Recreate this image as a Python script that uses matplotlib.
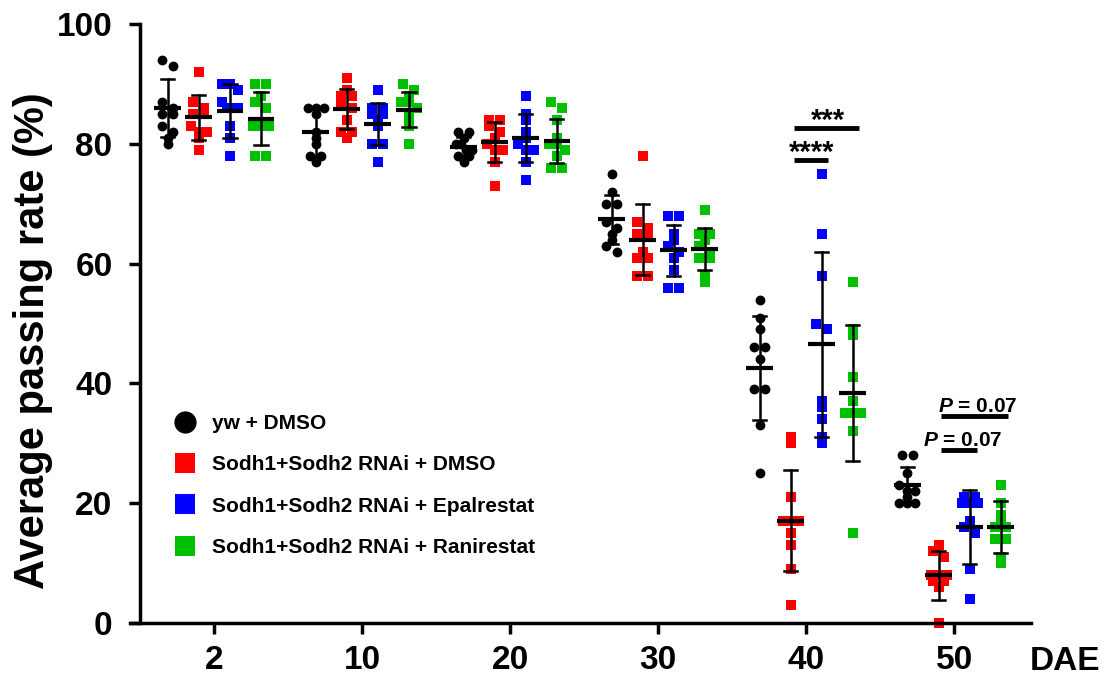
import numpy as np
import matplotlib.pyplot as plt
from matplotlib.lines import Line2D

plt.rcParams['font.family'] = ['Liberation Sans', 'DejaVu Sans']
plt.rcParams['font.weight'] = 'bold'
plt.rcParams['mathtext.fontset'] = 'custom'
plt.rcParams['mathtext.it'] = 'Liberation Sans:italic:bold'
plt.rcParams['mathtext.rm'] = 'Liberation Sans:bold'

# Days after eclosion (x categories) and the four conditions
days = ['2', '10', '20', '30', '40', '50']
groups = ['yw + DMSO', 'Sodh1+Sodh2 RNAi + DMSO',
          'Sodh1+Sodh2 RNAi + Epalrestat', 'Sodh1+Sodh2 RNAi + Ranirestat']
colors = ['#000000', '#ff0000', '#0000ff', '#00c000']
markers = ['o', 's', 's', 's']

# Individual vials (passing rate %)
yw_dmso = [[94, 93, 87, 86, 85, 85, 83, 82, 81, 80],
           [86, 86, 86, 85, 82, 81, 80, 78, 78, 77],
           [82, 82, 81, 80, 80, 79, 79, 78, 78, 77],
           [75, 72, 70, 70, 67, 66, 65, 64, 63, 62],
           [54, 51, 49, 46, 46, 44, 39, 39, 33, 25],
           [28, 28, 25, 23, 22, 22, 21, 20, 20, 20]]
rnai_dmso = [[92, 87, 86, 85, 85, 83, 82, 82, 81, 79],
             [91, 89, 88, 88, 87, 86, 84, 82, 82, 81],
             [84, 84, 83, 82, 81, 80, 79, 79, 77, 73],
             [78, 67, 66, 65, 65, 62, 61, 61, 58, 58],
             [31, 30, 21, 17, 17, 17, 15, 13, 9, 3],
             [13, 12, 11, 8, 8, 8, 7, 7, 6, 0]]
rnai_epal = [[90, 90, 89, 87, 86, 86, 86, 83, 81, 78],
             [89, 86, 86, 85, 85, 84, 83, 80, 80, 77],
             [88, 85, 84, 82, 81, 80, 79, 79, 77, 74],
             [68, 68, 65, 64, 63, 62, 61, 59, 56, 56],
             [75, 65, 58, 50, 49, 37, 36, 34, 31, 30],
             [21, 21, 20, 20, 20, 17, 16, 15, 9, 4]]
rnai_rani = [[90, 90, 88, 87, 86, 83, 83, 83, 78, 78],
             [90, 89, 88, 87, 87, 86, 85, 84, 83, 80],
             [87, 86, 84, 81, 80, 80, 79, 78, 76, 76],
             [69, 65, 65, 64, 63, 62, 61, 61, 58, 57],
             [57, 49, 48, 41, 37, 35, 35, 35, 32, 15],
             [23, 20, 18, 17, 16, 16, 14, 14, 11, 10]]

# Mean and SD bars as drawn
yw_mean = [86.0, 82.0, 79.5, 67.4, 42.6, 23.0]
yw_sd = [4.9, 4.0, 1.6, 4.1, 8.7, 3.0]
dmso_mean = [84.4, 85.8, 80.3, 64.0, 17.1, 8.0]
dmso_sd = [3.7, 3.3, 3.3, 5.9, 8.5, 4.1]
epal_mean = [85.5, 83.3, 80.9, 62.2, 46.5, 16.0]
epal_sd = [4.5, 3.5, 4.0, 4.2, 15.5, 6.2]
rani_mean = [84.2, 85.7, 80.5, 62.4, 38.4, 16.0]
rani_sd = [4.4, 2.9, 3.7, 3.5, 11.4, 4.3]

all_vals = [yw_dmso, rnai_dmso, rnai_epal, rnai_rani]
all_means = [yw_mean, dmso_mean, epal_mean, rani_mean]
all_sds = [yw_sd, dmso_sd, epal_sd, rani_sd]

# significance annotations: (day index, from group, to group, label, bar height)
sig_40 = [(4, 1, 2, '****', 77.3), (4, 1, 3, '***', 82.6)]
sig_50 = [(5, 1, 2, '$P$ = 0.07', 28.8), (5, 1, 3, '$P$ = 0.07', 34.6)]

offsets = [-0.315, -0.105, 0.105, 0.315]

# pixels per data unit (used only to spread overlapping points)
PX_X = 148.0
PX_Y = 5.99


def spread(vals, row=8.5, step=11.0, maxw=16.0):
    # Prism-like scatter: points in the same row are spread symmetrically
    vals = np.asarray(vals, float)
    rows = np.round(vals * PX_Y / row)
    dx = np.zeros(len(vals))
    for r in np.unique(rows):
        idx = np.where(rows == r)[0]
        n = len(idx)
        if n < 2:
            continue
        st = min(step, maxw / (n - 1))
        for k, i in enumerate(idx):
            dx[i] = (k - (n - 1) / 2) * st / PX_X
    return dx


fig = plt.figure(figsize=(11.08, 6.75), dpi=100)
ax = fig.add_axes([130 / 1108, 52 / 675, 901 / 1108, 599 / 675])

for g in range(4):
    for d in range(len(days)):
        v = np.array(all_vals[g][d])
        x = d + offsets[g] + spread(v)
        ax.scatter(x, v, s=50 if markers[g] == 'o' else 42, marker=markers[g],
                   color=colors[g], linewidths=0, clip_on=False, zorder=2)
        xc = d + offsets[g]
        m, sd = all_means[g][d], all_sds[g][d]
        ax.plot([xc, xc], [m - sd, m + sd], color='black', lw=1.8, zorder=3)
        for yy in (m - sd, m + sd):
            ax.plot([xc - 0.045, xc + 0.045], [yy, yy], color='black', lw=1.8, zorder=3)
        ax.plot([xc - 0.09, xc + 0.09], [m, m], color='black', lw=3, zorder=3,
                solid_capstyle='butt')

# significance bars
for d, g0, g1, lab, yb in sig_40:
    x0 = d + offsets[g0] + 0.02
    x1 = d + offsets[g1] + 0.04
    ax.plot([x0, x1], [yb, yb], color='black', lw=3.5, solid_capstyle='butt')
    ax.text((x0 + x1) / 2 + 0.01, yb - 0.2, lab, ha='center', va='baseline',
            fontsize=21, fontweight='bold')
for d, g0, g1, lab, yb in sig_50:
    x0 = d + offsets[g0] + 0.02
    x1 = d + offsets[g1] + 0.05
    ax.plot([x0, x1], [yb, yb], color='black', lw=3.5, solid_capstyle='butt')
    ax.text((x0 + x1) / 2 + 0.02, yb + 0.7, lab, ha='center', va='baseline',
            fontsize=15, fontweight='bold')

ax.set_xlim(-0.57, 5.52)
ax.set_ylim(0, 100)
ax.spines['top'].set_visible(False)
ax.spines['right'].set_visible(False)
ax.spines['left'].set_position(('data', -0.5))
ax.spines['left'].set_linewidth(2.5)
ax.spines['bottom'].set_linewidth(2.5)
ax.set_xticks(range(len(days)))
ax.set_xticklabels(days)
ax.set_yticks([0, 20, 40, 60, 80, 100])
ax.tick_params(axis='both', width=2.5, length=8, labelsize=24)
ax.tick_params(axis='x', pad=8)
ax.tick_params(axis='y', pad=12)
ax.set_ylabel('Average passing rate (%)', fontsize=30, fontweight='bold')
ax.yaxis.set_label_coords(-0.0855, 0.472)
fig.text(1030 / 1108, 5 / 675, 'DAE', fontsize=24, fontweight='bold',
         ha='left', va='baseline')

# legend
handles = [Line2D([], [], marker=markers[g], color=colors[g], ls='none',
                  markersize=16 if g == 0 else 15, markeredgewidth=0)
           for g in range(4)]
ax.legend(handles, groups, loc='upper left', bbox_to_anchor=(175 / 1108, 1 - 414 / 675),
          bbox_transform=fig.transFigure, frameon=False, fontsize=15,
          handlelength=1.0, handletextpad=0.8, labelspacing=1.07, borderpad=0,
          borderaxespad=0)

fig.savefig('out.png', dpi=100)
